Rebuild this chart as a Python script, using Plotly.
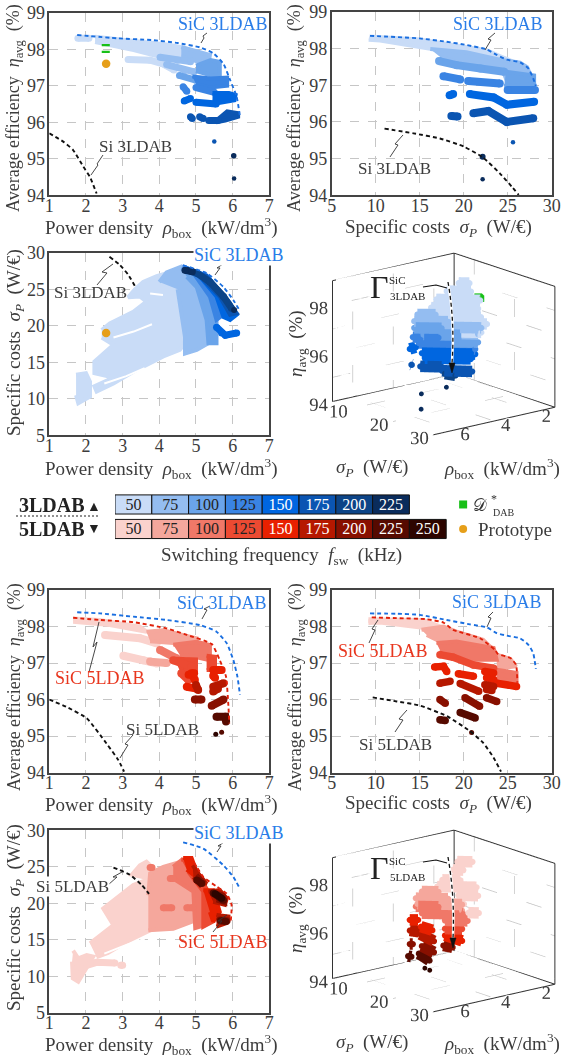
import plotly.graph_objects as go

W, H = 561, 1061
FREQ = [50, 75, 100, 125, 150, 175, 200, 225, 250]
BLUE = {50:'#c9dcf7',75:'#94bdf1',100:'#6aa4ea',125:'#3a84e3',150:'#0066e0',175:'#0b55b2',200:'#0c4487',225:'#0a2c5c'}
RED = {50:'#fad2cd',75:'#f5a79c',100:'#f07868',125:'#ec4a32',150:'#e82000',175:'#b61800',200:'#881000',225:'#560a00',250:'#2d0500'}
C_BLUE, C_RED, C_GREEN, C_ORANGE = '#1a6fe0', '#e0200a', '#18c018', '#e69f1a'
INK = '#3c3c3c'

# ---------- Panel A: rho vs eta, 3LDAB
A50_PX=[2.25,3.29,4.2,4.65,4.65,3.9,3.3,2.25]; A50_PY=[98.34,98.23,98.13,98.05,97.8,97.82,97.98,98.2]
A50_SX=[1.78,2.08,None,3.15,3.75,4.1,4.4]; A50_SY=[98.3,98.3,None,97.72,97.7,97.6,97.43]
A75_PX=[4.6,5.0,5.38,5.35,5.0,4.6]; A75_PY=[98.06,97.95,97.84,97.65,97.68,97.8]
A75_SX=[4.02,4.5,4.85,None,4.2,4.7,4.95]; A75_SY=[97.78,97.7,97.66,None,97.58,97.42,97.38]
A100_PX=[5.0,5.4,5.65,5.65,5.35,5.0]; A100_PY=[97.55,97.7,97.65,97.25,97.3,97.4]
A100_SX=[4.55,5.0]; A100_SY=[97.28,97.15]
A125_PX=[4.9,5.4,5.85,5.85,5.4,5.0]; A125_PY=[97.25,97.2,97.22,97.0,96.95,97.05]
A125_SX=[4.65,4.75,None,5.0,5.5]; A125_SY=[96.97,96.85,None,96.95,96.82]
A150_PX=[5.45,5.9,6.08,6.05,5.6,5.45]; A150_PY=[96.8,96.8,96.75,96.6,96.52,96.6]
A150_SX=[5.0,5.55,None,4.68,4.85]; A150_SY=[96.55,96.5,None,96.58,96.65]
A175_PX=[5.55,5.85,6.15,6.15,5.8,5.55]; A175_PY=[96.05,96.3,96.25,96.15,96.05,96.0]
A175_SX=[4.85,4.9,None,5.1,5.2,None,5.35,5.6]; A175_SY=[96.15,96.1,None,96.15,96.1,None,96.05,96.05]
A_DOT_X=[5.5,6.03,6.04]; A_DOT_Y=[95.47,95.08,94.46]; A_DOT_F=[175,225,225]; A_DOT_S=[4.5,5.5,4.5]
A_SIC_X=[1.76,2.84,3.8,4.5,5.11,5.47,5.75,5.93,6.11,6.2]; A_SIC_Y=[98.39,98.3,98.25,98.17,98.05,97.89,97.6,97.16,96.7,96.15]
A_SI_X=[1.0,1.38,1.65,1.93,2.11,2.29]; A_SI_Y=[95.7,95.47,95.24,94.78,94.5,94.05]
A_DAB_X=[2.43,2.65,None,2.43,2.65]; A_DAB_Y=[98.11,98.11,None,97.93,97.93]
PROTO_RHO=[2.55]; PROTO_ETA=[97.6]; PROTO_SIGMA=[19.0]

# ---------- Panel B: sigma vs eta, 3LDAB
B50_PX=[9.3,15,18.8,22.6,24.3,25.6,24.9,21.9,16.2,10.5,9.2]; B50_PY=[98.33,98.25,98.1,97.96,97.78,97.65,97.6,97.83,98.0,98.22,98.24]
B75_PX=[16.2,20.3,24.1,26.4,27.2,28.0,25.0,24.5,20.3,17.3]; B75_PY=[97.99,97.9,97.7,97.62,97.5,97.05,97.05,97.38,97.55,97.78]
B100_PX=[24.8,28.0,28.0,24.6]; B100_PY=[97.37,97.27,97.02,96.98]
B100_SX=[17.2,19.2,21.9,24.6]; B100_SY=[97.66,97.55,97.46,97.37]
B125_SX=[17.7,19.6,None,20.5,24.1,None,25.0,28.1]; B125_SY=[97.25,97.16,None,97.12,97.05,None,96.87,96.87]
B150_SX=[20.7,23.4,24.9,28,None,18.4,18.8]; B150_SY=[96.76,96.67,96.47,96.55,None,96.73,96.76]
B175_SX=[21.1,22.8,24.9,27.9,None,18.6,19.3]; B175_SY=[96.24,96.3,96.0,96.1,None,96.16,96.15]
B_DOT_X=[25.6,22.15,22.15]; B_DOT_Y=[95.45,95.05,94.44]; B_DOT_F=[175,225,225]; B_DOT_S=[4.5,6,4.5]
B_SIC_X=[9.35,15,18,20.3,22.6,23.75,24.9,26.4,27.35,27.9,28.2]; B_SIC_Y=[98.35,98.28,98.19,98.1,97.98,97.83,97.7,97.63,97.46,97.19,96.98]
B_SI_X=[11,14.3,17.3,20,22.2,24.1,25.45,26.25]; B_SI_Y=[95.82,95.69,95.55,95.33,95.03,94.6,94.24,94.01]

# ---------- Panel C: rho vs sigma, 3LDAB
C50_PX=[1.73,2.0,2.11,2.11,1.79,1.73,None,2.43,2.65,3.29,3.65,3.47,3.15,3.34,3.56,3.93,4.2,4.7,4.7,4.56,4.11,3.29,2.75,2.29,2.23,2.75,2.23,2.23,2.75,2.43]
C50_PY=[13.3,13.5,12.35,10.3,9.4,10.5,None,19.4,20.3,21.9,23.3,24,23.9,25,26,26.8,27.2,25,17.6,16.7,15.8,13.7,12.1,11,11.7,12.9,13.5,15.1,17.4,18.4]
C_GAP_X=[2.75,3.3,3.8,None,2.5,3.1,3.6,None,3.75,4.1]; C_GAP_Y=[18.4,19.2,20.2,None,12.1,13.1,14.2,None,24.4,24.2]
C75_PX=[4,4.2,4.6,5.11,5.29,5.34,5.02,4.7,4.7,4.56,4.5]; C75_PY=[26,27.3,28.1,24.9,19.4,17.6,16.7,16.2,18.5,23.3,25]
C100_PX=[4.6,4.93,5.38,5.56,5.56,5.34,5.29,5.02,4.75]; C100_PY=[27.9,27.2,24,21.2,17.6,17.6,20.8,25.3,26.7]
C125_PX=[4.64,5.11,5.56,5.79,5.56,5.38,4.93]; C125_PY=[28.1,27.2,24.4,21.7,20.8,24,27.2]
C150_PX=[4.75,5.29,5.93,6.11,5.93,5.75,5.56,5.11]; C150_PY=[27.9,26.9,23.1,21.5,20.8,21.2,24,26.7]
C150_SX=[5.56,5.7,5.8,6.11]; C150_SY=[19.8,19.0,18.7,19.0]
C175_PX=[4.88,5.29,5.75,6.11,5.93,5.65,5.2]; C175_PY=[27.6,26.8,24.2,21.7,21.5,24,26.3]
C200_SX=[4.75,5.02,5.38,5.75,5.97]; C200_SY=[27.6,27.2,26,24,22.4]
C225_SX=[4.7,4.9]; C225_SY=[27.6,27.4]
C_DOT_X=[6.04]; C_DOT_Y=[22.15]; C_DOT_F=[225]; C_DOT_S=[6]
C_SIC_X=[4.64,5.29,5.75,6.02,6.2]; C_SIC_Y=[28.3,27.2,25.3,23.5,22]
C_SI_X=[2.64,2.93,3.15,3.34]; C_SI_Y=[29.45,28.3,27,25.4]

# ---------- Panel D: sigma, rho, eta, 3LDAB
D50_S=[9.9,12.55,None,9.18,15.2,None,8.6,19.5,None,10.35,22,None,9.98,22.7,None,12.4,26.2,None,15.55,26.8]
D50_R=[1.75,1.75,None,2.2,2.2,None,2.6,2.6,None,3.2,3.2,None,3.2,3.2,None,3.6,3.6,None,4,4]
D50_E=[98.18,98.32,None,97.89,98.2,None,97.59,98.15,None,97.46,98.06,None,97.09,97.75,None,97.02,97.73,None,96.91,97.49]
D75_S=[16,20.5,None,15.2,18.55,None,16.3,26.8,None,19.3,26]
D75_R=[5,5,None,5,4,None,4,4,None,4,4]
D75_E=[97.83,98.07,None,97.51,97.48,None,97.13,97.68,None,97.04,97.38]
D100_S=[15.2,22,None,17.5,22.05,None,18.55,26]
D100_R=[5,5,None,5,4,None,4,4]
D100_E=[97.23,97.59,None,97.08,97.11,None,96.65,97.04]
D125_S=[14.85,21.2,None,16.35,20.05,None,18.55,25.3]
D125_R=[5,5,None,5,4,None,4,4]
D125_E=[96.83,97.16,None,96.67,96.66,None,96.37,96.72]
D150_S=[17.1,25.3,None,17.85,24.2,None,14.1,15.6]
D150_R=[5,4,None,5,4,None,5,5]
D150_E=[96.29,96.51,None,96.12,96.25,None,96.3,96.45]
D175_S=[16.7,22,None,17.05,24.55,None,14.5,14.6]
D175_R=[5,5,None,4,4,None,5,5]
D175_E=[95.72,95.99,None,95.37,95.75,None,95.67,95.67]
D200_S=[17.8,20.4]
D200_R=[4,4]
D200_E=[95.29,95.36]
D_DOT_S=[22.15,22.15,25.7]; D_DOT_R=[6.03,6.04,5.5]; D_DOT_E=[95.08,94.45,95.45]
D_DAB_S=[17.55,19.4,19.4]; D_DAB_R=[2.5,2.5,2.5]; D_DAB_E=[98.21,98.31,98.06]

# ---------- Panel E: rho vs eta, 5LDAB
E50_PX=[1.65,2.38,3.47,3.65,2.65,1.65]; E50_PY=[98.22,98.18,98.0,97.86,98.04,98.13]
E50_SX=[2.52,3.47,3.93,None,3.02,3.56,3.93]; E50_SY=[97.77,97.68,97.54,None,97.2,97.08,96.99]
E75_PX=[3.65,4.11,5.02,5.02,4.6,4.38,3.75]; E75_PY=[97.86,97.9,97.68,97.5,97.42,97.55,97.6]
E75_SX=[3.75,4.2]; E75_SY=[97.04,97.0]
E100_PX=[4.38,5.02,5.38,5.38,4.93,4.56]; E100_PY=[97.5,97.58,97.49,97.08,97.18,97.22]
E100_SX=[4.02,4.47]; E100_SY=[97.36,97.13]
E125_PX=[5.29,5.52,5.52,5.29,None,4.45,5.0,5.0,4.7,4.55]; E125_PY=[97.2,97.17,96.81,96.81,None,97.12,97.1,96.75,96.6,96.95]
E125_SX=[4.38,4.88,None,4.6,4.79]; E125_SY=[97.08,96.9,None,96.72,96.54]
E150_SX=[4.88,4.97,None,5.47,5.7,None,5.47,5.52,None,4.75,5.02,None,4.8,4.95]; E150_SY=[96.72,96.54,None,96.81,96.81,None,96.65,96.6,None,96.35,96.3,None,96.68,96.72]
E175_SX=[5.0,5.06,None,5.47,5.75,None,5.47,5.6]; E175_SY=[96.4,96.26,None,96.35,96.45,None,96.22,96.3]
E200_SX=[4.97,5.15,None,5.43,5.75]; E200_SY=[96,96,None,95.83,96]
E225_SX=[5.56,5.8,5.82]; E225_SY=[95.53,95.53,95.4]
E_DOT_X=[5.54,5.7]; E_DOT_Y=[95.05,95.11]; E_DOT_F=[250,225]; E_DOT_S=[5,5]
E_SI3_X=[1.76,2.38,3.29,4.2,5.11,5.56,5.84,6.02,6.13,6.2]; E_SI3_Y=[98.39,98.36,98.27,98.18,98.04,97.86,97.54,97.08,96.63,96.13]
E_S5_X=[1.65,2.38,3.29,4.2,4.75,5.43,5.65,5.82,5.88,5.91]; E_S5_Y=[98.24,98.18,98.12,97.95,97.77,97.52,97.08,96.63,95.9,95.35]
E_SI_X=[1.0,1.47,2.02,2.56,2.88,3.04]; E_SI_Y=[96.0,95.8,95.49,94.8,94.35,94.03]

# ---------- Panel F: sigma vs eta, 5LDAB
F50_PX=[9.17,15.4,18.6,15.8,10.5,9.17]; F50_PY=[98.2,98.18,97.89,97.95,98.11,98.1]
F75_PX=[15.2,17.7,19.2,22.2,23.4,19.6,17.3,15.8,None,23.75,25.3,25.95,23.75]; F75_PY=[97.91,98,97.86,97.64,97.36,97.36,97.59,97.77,None,97.23,97.11,96.91,96.86]
F100_PX=[16.9,19.2,23.4,23.75,19.6,17.3,None,23.75,26,26,23.75]; F100_PY=[97.55,97.59,97.41,97.09,97.09,97.36,None,96.82,96.73,96.47,96.59]
F125_SX=[17.3,18.8,21.1,23.4]; F125_SY=[97.23,97.16,96.95,96.86]
F150_SX=[16.7,17.7,18.07,None,19.4,21.1,None,22.4,23.4,None,23.75,26,None,22.6,23.4]; F150_SY=[96.89,96.91,96.77,None,96.71,96.64,None,96.77,96.73,None,96.45,96.36,None,96.6,96.55]
F175_SX=[17.3,18.45,None,19.6,21.7,None,22.4,23.4,None,22.6,23.2]; F175_SY=[96.45,96.5,None,96.44,96.23,None,96.41,96.36,None,96.28,96.25]
F200_SX=[17.3,17.9,None,20.15,21.8,None,22.6,23.75]; F200_SY=[96,95.9,None,96.05,95.82,None,96.05,95.95]
F225_SX=[17.3,17.9,None,19.6,21.3]; F225_SY=[95.45,95.43,None,95.65,95.5]
F_DOT_X=[20.9]; F_DOT_Y=[95.1]; F_DOT_F=[225]; F_DOT_S=[5]
F_SI3_X=[9.35,12.4,15,18.07,20.7,22.6,23.75,24.9,26.4,27.35,27.9,28.2]; F_SI3_Y=[98.36,98.35,98.32,98.18,98.06,97.98,97.82,97.75,97.68,97.5,97.27,96.84]
F_S5_X=[9.55,12.4,15.8,17.7,18.8,21.86,23.56,23.9,25.3,25.95,26.1]; F_S5_Y=[98.25,98.23,98.2,98.11,97.91,97.68,97.36,97.25,97.14,96.95,96.46]
F_SI_X=[9.66,12.4,15,18.07,20.7,22.2,23.4,24.24]; F_SI_Y=[96.06,95.95,95.84,95.55,95.14,94.82,94.41,94.03]

# ---------- Panel G: rho vs sigma, 5LDAB
G50_PX=[1.65,1.79,2.02,2.2,1.79,1.64,1.62,None,2.11,2.75,2.47,3.29,3.75,3.25,3.47,3.65,3.8,3.8,3.1,2.6,2.29]
G50_PY=[13.5,12.45,12.9,12.7,9.25,9.7,12,None,14.5,17,19.3,22.5,23.4,23.9,25.2,25.7,25,16.4,14.7,13.2,12.6]
G50_SX=[1.84,2.29,2.79,None,2.95,3.0]; G50_SY=[11.2,11.9,11.8,None,11.5,11.5]
G_GAP_X=[2.5,3.1,3.6,None,3.75,4.0]; G_GAP_Y=[13.1,14.3,15.1,None,24.0,24.0]
G75_PX=[3.7,3.75,4.11,4.6,5.02,5.11,4.38,3.7]; G75_PY=[21.1,24.1,25,25.7,21.6,17.9,16.5,16.3]
G100_PX=[4.38,4.6,4.84,5.2,5.25,4.98,4.93,4.38]; G100_PY=[25,25.9,23.9,22,17,16.6,21.6,23.4]
G100_SX=[4.11,4.34,None,4.75,4.91,None,3.75,3.8,None,4.3,4.38]; G100_SY=[19.4,19.4,None,19.4,19.4,None,24.9,24.9,None,23.4,23.4]
G125_PX=[4.6,4.8,5.06,5.29,5.47,5.2,5.2,4.79]; G125_PY=[26,25.9,23.9,22,17.5,16.8,21.6,24.3]
G150_PX=[4.65,4.88,5.02,5.11,4.93,4.75,None,5.2,5.47,5.65,5.47,5.38]; G150_PY=[26.2,26.2,24.3,23.4,23.9,24.6,None,21.8,21.8,18.8,17.5,18.8]
G175_PX=[4.91,5.06,5.29,5.11,4.93,None,5.34,5.65,5.84,5.79,5.47,None,5.56,5.88,5.84,5.56]; G175_PY=[25.2,24.1,22.7,22.7,23.6,None,21.6,21.8,20.7,19.8,20.2,None,18.4,18.2,17.3,16.8]
G200_PX=[5.02,5.2,5.11,4.97,None,5.47,5.75,5.79,5.56]; G200_PY=[23.9,23,22.5,23.2,None,21.6,21.2,20,20.4]
G200_SX=[5.65,5.85]; G200_SY=[17.7,17.6]
G225_SX=[5.02,5.16,None,5.47,5.75,None,5.67,5.82]; G225_SY=[23.2,22.7,None,21.4,20.4,None,17.6,17.5]
G250_SX=[5.52,5.7]; G250_SY=[21.3,20.7]
G_SI3_X=[4.65,5.2,5.75,6.02,6.2]; G_SI3_Y=[28.35,27.5,25.2,23.6,22]
G_S5_X=[4.84,5.02,5.2,5.56,5.84,5.97,5.95]; G_S5_Y=[26.4,25,23.6,22.3,21.3,19.8,17.6]
G_SI_X=[2.75,3.2,3.52,3.72]; G_SI_Y=[24.9,23.9,22.5,21.3]

# ---------- Panel H: sigma, rho, eta, 5LDAB
H50_S=[9.55,13.3,None,10.68,13.3,None,10.1,14.6,None,11.85,21.6,None,17.1,22,None,17.1,20.5,None,23.6,26.2,None,21.9,26.05]
H50_R=[1.75,1.75,None,2.2,2.2,None,2.6,2.6,None,3.2,3.2,None,3.2,3.2,None,3.6,3.6,None,4,4]
H50_E=[98.09,98.29,None,97.9,98.03,None,97.53,97.76,None,97.46,97.97,None,97.39,97.64,None,97.11,97.29,None,97.18,97.31,None,96.89,97.11]
H75_S=[17.1,21.2,None,15.6,18.55,None,16,22.05,None,17.05,22.05]
H75_R=[5,5,None,5,4,None,5,4,None,4,4]
H75_E=[97.89,98.1,None,97.53,97.48,None,97.32,97.43,None,96.92,97.18]
H100_S=[15.6,21.2,None,17.1,22.3,None,17.8,23.4]
H100_R=[5,5,None,5,4,None,4,4]
H100_E=[97.19,97.48,None,96.99,97.05,None,96.54,96.83]
H125_S=[17.8,22.05]; H125_R=[4,4]; H125_E=[96.2,96.42]
H150_S=[14.1,16.15,None,16.85,19.7,None,17.8,22.05]
H150_R=[5,5,None,5,5,None,4,4]
H150_E=[96.55,96.66,None,96.42,96.43,None,95.92,95.93]
H175_S=[14.1,16.35,None,16.7,20.1]
H175_R=[5,5,None,5,5]
H175_E=[96.11,96.18,None,96.1,96.0]
H200_S=[14.1,14.85,None,17.1,20.1,None,17.4,19.7]
H200_R=[5,5,None,5,5,None,4,4]
H200_E=[95.55,95.59,None,95.63,95.54,None,95.48,95.53]
H225_S=[13.7,14.5,None,16.35,19]
H225_R=[5,5,None,5,5]
H225_E=[95.03,95.05,None,95.28,95.14]
H_DOT_S=[17.85,19.05]; H_DOT_R=[5,5]; H_DOT_E=[94.76,94.74]

# ---------- legend / ticks
KEY_X=[9.46]; KEY_GREEN_Y=[1]; KEY_ORANGE_Y=[0]
RHO_TICKS=[1,2,3,4,5,6,7]; ETA_TICKS=[94,95,96,97,98,99]
SIG_TICKS=[5,10,15,20,25,30]
BOX_RHO=[1,7]; BOX_SIG=[5,30]; BOX_ETA=[94,99]
GRID_RHO=[2,4,6]; GRID_SIG=[10,20,30]; GRID_ETA=[95,96,97,98]

fig = go.Figure()

def fx(p): return p / W
def fy(p): return 1 - p / H

AXES = {
 'A': (1, 49.3, 269.3, 12.7, 195.3, [1,7], [94,99], RHO_TICKS, ETA_TICKS),
 'B': (2, 331.7, 551.7, 12.0, 195.3, [5,30], [94,99], SIG_TICKS, ETA_TICKS),
 'C': (3, 49.3, 269.3, 252.7, 435.3, [1,7], [5,30], RHO_TICKS, SIG_TICKS),
 'E': (4, 49.3, 269.3, 590, 772.7, [1,7], [94,99], RHO_TICKS, ETA_TICKS),
 'F': (5, 331.7, 551.7, 590, 772.7, [5,30], [94,99], SIG_TICKS, ETA_TICKS),
 'G': (6, 49.3, 269.3, 830.3, 1012.7, [1,7], [5,30], RHO_TICKS, SIG_TICKS),
}
layout = dict(width=W, height=H, margin=dict(l=0, r=0, t=0, b=0, pad=0, autoexpand=False), paper_bgcolor='white',
              plot_bgcolor='white', showlegend=False, barmode='overlay',
              font=dict(family='Liberation Serif', size=17, color=INK))
for k, (n, x0, x1, y0, y1, xr, yr, xt, yt) in AXES.items():
    common = dict(showgrid=True, gridcolor='#c6c6c6', griddash='dash', gridwidth=1,
                  showline=True, linecolor='#444444', linewidth=1.6, mirror=True, ticks='',
                  zeroline=False, tickfont=dict(size=18, family='Liberation Serif', color=INK))
    layout[f'xaxis{n}'] = dict(domain=[fx(x0), fx(x1)], range=xr, tickvals=xt, anchor=f'y{n}', ticklabelstandoff=-7, **common)
    layout[f'yaxis{n}'] = dict(domain=[fy(y1), fy(y0)], range=yr, tickvals=yt, anchor=f'x{n}', ticklabelstandoff=-1, **common)

def T(n): return dict(xaxis=f'x{n}', yaxis=f'y{n}', hoverinfo='skip')

def bands(prefix, n, pal, sw=7):
    g = globals()
    for f in FREQ:
        px, py = g.get(f'{prefix}{f}_PX'), g.get(f'{prefix}{f}_PY')
        if px:
            fig.add_trace(go.Scatter(x=px, y=py, mode='lines', fill='toself', fillcolor=pal[f],
                                     line=dict(color=pal[f], width=4), **T(n)))
        sx, sy = g.get(f'{prefix}{f}_SX'), g.get(f'{prefix}{f}_SY')
        if sx:
            fig.add_trace(go.Scatter(x=sx, y=sy, mode='lines+markers', line=dict(color=pal[f], width=sw),
                                     marker=dict(color=pal[f], size=sw, line=dict(width=0)), **T(n)))
        if f == 50 and g.get(f'{prefix}_GAP_X'):
            fig.add_trace(go.Scatter(x=g[f'{prefix}_GAP_X'], y=g[f'{prefix}_GAP_Y'], mode='lines',
                                     line=dict(color='white', width=2), **T(n)))
    if g.get(f'{prefix}_DOT_X'):
        fig.add_trace(go.Scatter(x=g[f'{prefix}_DOT_X'], y=g[f'{prefix}_DOT_Y'], mode='markers',
                                 marker=dict(size=g[f'{prefix}_DOT_S'], color=[pal[f] for f in g[f'{prefix}_DOT_F']],
                                             opacity=1, line=dict(width=0)), **T(n)))

def curve(x, y, n, color, width=1.9):
    fig.add_trace(go.Scatter(x=x, y=y, mode='lines', line=dict(color=color, width=width, dash='4px,3px', shape='spline', smoothing=0.5), **T(n)))

bands('A', 1, BLUE); curve(A_SIC_X, A_SIC_Y, 1, C_BLUE); curve(A_SI_X, A_SI_Y, 1, '#111111')
fig.add_trace(go.Scatter(x=A_DAB_X, y=A_DAB_Y, mode='lines', line=dict(color=C_GREEN, width=2.2), **T(1)))
fig.add_trace(go.Scatter(x=PROTO_RHO, y=PROTO_ETA, mode='markers', marker=dict(size=8.5, color=C_ORANGE), **T(1)))
bands('B', 2, BLUE, 8); curve(B_SIC_X, B_SIC_Y, 2, C_BLUE); curve(B_SI_X, B_SI_Y, 2, '#111111')
bands('C', 3, BLUE); curve(C_SIC_X, C_SIC_Y, 3, C_BLUE); curve(C_SI_X, C_SI_Y, 3, '#111111')
fig.add_trace(go.Scatter(x=PROTO_RHO, y=PROTO_SIGMA, mode='markers', marker=dict(size=8.5, color=C_ORANGE), **T(3)))
bands('E', 4, RED, 8); curve(E_SI3_X, E_SI3_Y, 4, C_BLUE); curve(E_S5_X, E_S5_Y, 4, C_RED); curve(E_SI_X, E_SI_Y, 4, '#111111')
bands('F', 5, RED, 7.5); curve(F_SI3_X, F_SI3_Y, 5, C_BLUE); curve(F_S5_X, F_S5_Y, 5, C_RED); curve(F_SI_X, F_SI_Y, 5, '#111111')
bands('G', 6, RED); curve(G_SI3_X, G_SI3_Y, 6, C_BLUE); curve(G_S5_X, G_S5_Y, 6, C_RED); curve(G_SI_X, G_SI_Y, 6, '#111111')

# ---------- 3D panels
EYE = dict(x=1.25, y=1.25, z=0.505)
SCALE = 1.43
def scene_axis(rng, ticks):
    return dict(range=rng, tickvals=ticks, showgrid=False, zeroline=False, tickangle=0,
                showbackground=False, showline=False, ticks='', title='',
                showspikes=False, tickfont=dict(size=15, family='Liberation Serif', color=INK))

def scene(name, y0, y1):
    layout[name] = dict(domain=dict(x=[fx(290), fx(561)], y=[fy(y1), fy(y0)]),
        xaxis=scene_axis(BOX_RHO, GRID_RHO), yaxis=scene_axis(BOX_SIG, GRID_SIG), zaxis=scene_axis(BOX_ETA, [94, 96, 98]),
        aspectmode='manual', aspectratio=dict(x=SCALE, y=SCALE, z=0.795 * SCALE),
        camera=dict(eye=EYE, up=dict(x=0, y=0, z=1), center=dict(x=0.117, y=-0.117, z=0),
                    projection=dict(type='orthographic')))
scene('scene', 233, 454)
scene('scene2', 809.7, 1030.7)

def frame3d(sc):
    r0, r1, s0, s1, e0, e1 = BOX_RHO[0], BOX_RHO[1], BOX_SIG[0], BOX_SIG[1], BOX_ETA[0], BOX_ETA[1]
    gx, gy, gz = [], [], []
    for e in GRID_ETA + [e0]:
        gx += [r1, r0, r0, None]; gy += [s0, s0, s1, None]; gz += [e, e, e, None]
    for s in GRID_SIG:
        gx += [r1, r0, r0, None]; gy += [s, s, s, None]; gz += [e0, e0, e1, None]
    for r in GRID_RHO:
        gx += [r, r, r, None]; gy += [s1, s0, s0, None]; gz += [e0, e0, e1, None]
    fig.add_trace(go.Scatter3d(x=gx, y=gy, z=gz, mode='lines', scene=sc, line=dict(color='#c4c4c4', width=1.5, dash='dash'), hoverinfo='skip'))
    bx = [r1, r1, r0, r0, r1, None, r0, r0, None, r1, r1, None, r0, r0]
    by = [s0, s1, s1, s0, s0, None, s0, s0, None, s0, s0, None, s1, s1]
    bz = [e0, e0, e0, e0, e0, None, e0, e1, None, e0, e1, None, e0, e1]
    bx += [None, r1, r0, r0]; by += [None, s0, s0, s1]; bz += [None, e1, e1, e1]
    fig.add_trace(go.Scatter3d(x=bx, y=by, z=bz, mode='lines', scene=sc, line=dict(color='#333333', width=2), hoverinfo='skip'))

def bands3d(prefix, sc, pal):
    g = globals()
    for f in FREQ:
        s = g.get(f'{prefix}{f}_S')
        if s:
            fig.add_trace(go.Scatter3d(x=g[f'{prefix}{f}_R'], y=s, z=g[f'{prefix}{f}_E'], mode='lines+markers', scene=sc,
                          line=dict(color=pal[f], width=23), marker=dict(color=pal[f], size=3.6), hoverinfo='skip'))
frame3d('scene'); frame3d('scene2')
bands3d('D', 'scene', BLUE)
fig.add_trace(go.Scatter3d(x=D_DOT_R, y=D_DOT_S, z=D_DOT_E, mode='markers', scene='scene', marker=dict(color=BLUE[225], size=2.8), hoverinfo='skip'))
fig.add_trace(go.Scatter3d(x=D_DAB_R, y=D_DAB_S, z=D_DAB_E, mode='lines', scene='scene', line=dict(color=C_GREEN, width=10), hoverinfo='skip'))
bands3d('H', 'scene2', RED)
fig.add_trace(go.Scatter3d(x=H_DOT_R, y=H_DOT_S, z=H_DOT_E, mode='markers', scene='scene2', marker=dict(color=RED[250], size=2.8), hoverinfo='skip'))

# ---------- legend bars
layout['xaxis7'] = dict(domain=[fx(115), 1], range=[0, (561 - 115) / 36.8], visible=False, anchor='y7')
layout['yaxis7'] = dict(domain=[fy(545), fy(490)], range=[-0.653, 1.59], visible=False, anchor='x7')
def legend_row(row, pal):
    for i, f in enumerate(pal):
        fig.add_trace(go.Bar(x=[1], y=[row], base=[i], width=0.78, orientation='h', marker=dict(color=pal[f], line=dict(color='#111111', width=1)),
                             text=[str(f)], textposition='inside', insidetextanchor='middle', constraintext='none', textangle=0,
                             textfont=dict(size=16, family='Liberation Serif', color='#222222' if f <= 125 else 'white'), **T(7)))
legend_row(1, BLUE); legend_row(0, RED)
fig.add_trace(go.Scatter(x=KEY_X, y=KEY_GREEN_Y, mode='markers', marker=dict(symbol='square', size=8, color=C_GREEN), **T(7)))
fig.add_trace(go.Scatter(x=KEY_X, y=KEY_ORANGE_Y, mode='markers', marker=dict(size=8, color=C_ORANGE), **T(7)))

# ---------- text
ann = []
def txt(x, y, s, size=19, color=INK, angle=0, anchor='center', family='Liberation Serif', bg=None):
    d = dict(xref='paper', yref='paper', x=fx(x), y=fy(y), text=s, showarrow=False, xanchor=anchor, yanchor='middle',
             textangle=angle, font=dict(size=size, color=color, family=family))
    if bg:
        d.update(bgcolor=bg, borderpad=0)
    ann.append(d)
RHO_T = 'Power density  <i>ρ</i><sub>box</sub>  (kW/dm<sup>3</sup>)'
SIG_T = 'Specific costs  <i>σ</i><sub><i>P</i></sub>  (W/€)'
ETA_T = 'Average efficiency  <i>η</i><sub>avg</sub>  (%)'
for x, y in [(161, 228), (161, 468), (161, 804), (161, 1044)]: txt(x, y, RHO_T)
for x, y in [(439, 228), (439, 804)]: txt(x, y, SIG_T)
for x, y in [(15, 108), (296, 108), (15, 687), (296, 687)]: txt(x, y, ETA_T, size=18, angle=-90)
for x, y in [(15, 343), (15, 918)]: txt(x, y, SIG_T, angle=-90)
for y in [468, 1043]:
    txt(372, y, '<i>σ</i><sub><i>P</i></sub>  (W/€)')
    txt(502, y, '<i>ρ</i><sub>box</sub>  (kW/dm<sup>3</sup>)')
for y in [344, 920]: txt(297, y, '<i>η</i><sub>avg</sub>  (%)', angle=-90)
for x, y in [(223, 24), (498, 24), (222, 603), (497, 602)]: txt(x, y, 'SiC 3LDAB', 18, '#2a7de8')
for x, y in [(239, 255), (239, 833)]: txt(x, y, 'SiC 3LDAB', 18, '#2a7de8', bg='white')
for x, y in [(135, 147), (394, 168), (90, 293)]: txt(x, y, 'Si 3LDAB', 17, INK)
for x, y in [(162, 729), (395, 744)]: txt(x, y, 'Si 5LDAB', 17, INK)
txt(72, 886, 'Si 5LDAB', 17, INK, bg='white')
for x, y in [(100, 678), (383, 651), (223, 942)]: txt(x, y, 'SiC 5LDAB', 18, '#e8361e')
for y0, lab in [(287, '3LDAB'), (868, '5LDAB')]:
    txt(379, y0, 'Γ', 32, '#222222')
    txt(397, y0 - 7, 'SiC', 11, '#222222')
    txt(407, y0 + 9, lab, 11, '#222222')
txt(17, 505, '<b>3LDAB</b>', 20, '#222222', anchor='left')
txt(17, 529, '<b>5LDAB</b>', 20, '#222222', anchor='left')
txt(94, 506, '▲', 14, '#222222'); txt(94, 528, '▼', 14, '#222222')
txt(480, 505, '𝒟', 17, '#333333', family='DejaVu Sans')
txt(494, 499, '*', 12, '#333333'); txt(503, 512, 'DAB', 10, '#333333')
txt(476, 529, 'Prototype', 19, INK, anchor='left')
txt(281, 556, 'Switching frequency  <i>f</i><sub>sw</sub>  (kHz)', 19)
layout['annotations'] = ann

# ---------- callouts
LIGHTNING = [[(201,43),(204,38),(203,36),(207,33)], [(91,175),(98,165),(97,164),(103,155)],
             [(485,50),(491,40),(488,39),(495,33)], [(390,157),(398,145),(395,144),(403,135)],
             [(215,275),(220,268),(217,268),(223,264)], [(97,285),(107,273),(102,272),(113,264)],
             [(202,619),(207,610),(204,609),(210,606)], [(99,622),(93,647),(97,642),(89,672)], [(120,758),(128,745),(125,744),(133,735)],
             [(487,627),(491,618),(488,617),(493,612)], [(369,643),(375,630),(372,629),(378,620)], [(395,732),(403,720),(399,719),(407,710)],
             [(217,852),(221,846),(218,846),(223,843)], [(108,885),(117,877),(113,877),(122,872)], [(213,932),(222,921),(218,921),(227,915)]]
def pth(pts): return 'M ' + ' L '.join(f'{fx(a):.5f},{fy(b):.5f}' for a, b in pts)
shapes = []
for z in LIGHTNING:
    shapes.append(dict(type='path', xref='paper', yref='paper', path=pth(z), line=dict(color='#333333', width=0.9)))
shapes.append(dict(type='line', xref='paper', yref='paper', x0=fx(16), x1=fx(100), y0=fy(516), y1=fy(516), line=dict(color='#222222', width=1.2, dash='2px,2px')))
for a, b in [((448,282), (452,363)), ((448,857), (453,938))]:
    qx = a[0] + 7
    path = f'M {fx(a[0]):.5f},{fy(a[1]):.5f} Q {fx(qx):.5f},{fy((a[1]+b[1])/2):.5f} {fx(b[0]):.5f},{fy(b[1]):.5f}'
    shapes.append(dict(type='path', xref='paper', yref='paper', path=path, line=dict(color='white', width=2.5)))
    shapes.append(dict(type='path', xref='paper', yref='paper', path=path, line=dict(color='#111111', width=1.3, dash='4px,3px')))
    ax, ay = b
    tri = [(ax-3, ay), (ax+3, ay), (ax, ay+10), (ax-3, ay)]
    shapes.append(dict(type='path', xref='paper', yref='paper', path=pth(tri)+' Z', fillcolor='#111111', line=dict(color='#111111', width=0.5)))
    shapes.append(dict(type='path', xref='paper', yref='paper', path=pth([(423,a[1]+5),(436,a[1]+3),(447,a[1]+6)]), line=dict(color='#111111', width=1.2)))
layout['shapes'] = shapes

fig.update_layout(**layout)
fig.write_html('out.html', config=dict(displayModeBar=False), post_script="document.body.style.margin='0';")
